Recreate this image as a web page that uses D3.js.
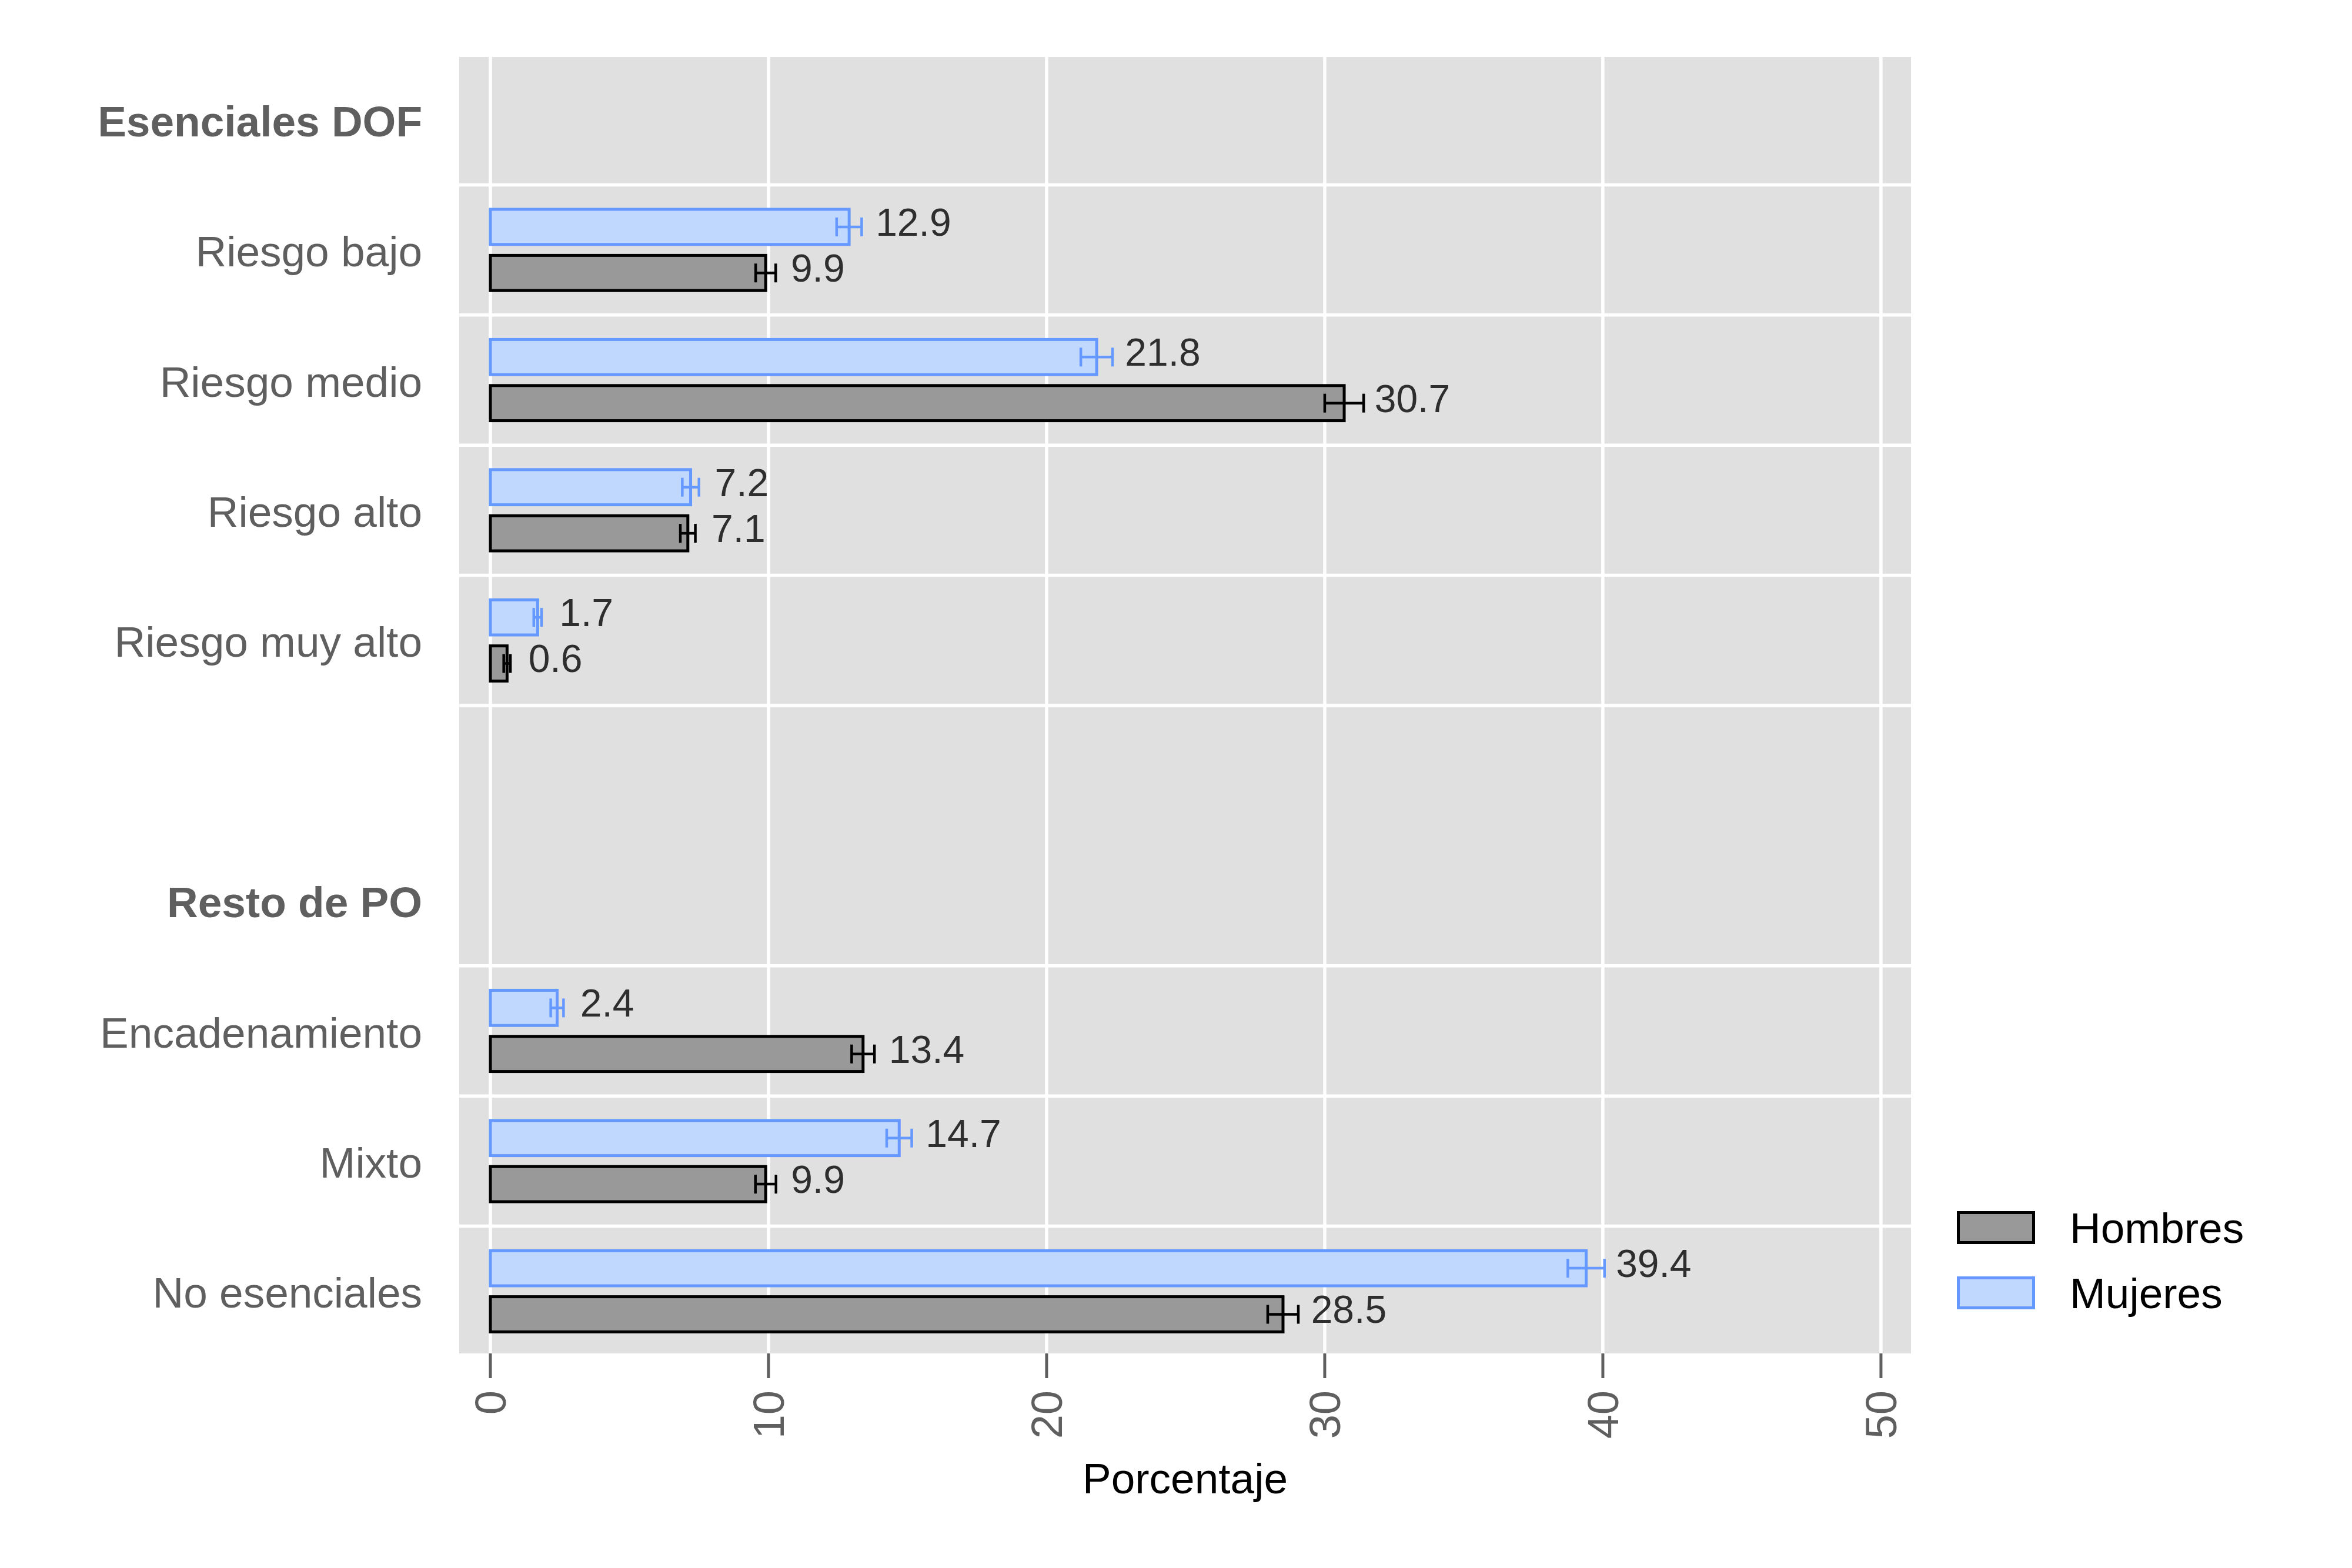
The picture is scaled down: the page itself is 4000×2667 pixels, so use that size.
<!DOCTYPE html>
<html>
<head>
<meta charset="utf-8">
<script src="https://cdn.jsdelivr.net/npm/d3@7"></script>
<style>
  html, body { margin: 0; padding: 0; background: #ffffff; }
  svg { display: block; }
  text { font-family: "Liberation Sans", Arial, Helvetica, sans-serif; }
</style>
</head>
<body>
<script>
// ---------- DATA ----------
const categories = ["Esenciales DOF", "Riesgo bajo", "Riesgo medio", "Riesgo alto", "Riesgo muy alto",
                    "", "Resto de PO", "Encadenamiento", "Mixto", "No esenciales"];
const headers = ["Esenciales DOF", "Resto de PO"];
const series = ["Hombres", "Mujeres"];
const mujeres    = [null, 12.9, 21.8, 7.2, 1.7, null, null, 2.4, 14.7, 39.4];
const hombres    = [null,  9.9, 30.7, 7.1, 0.6, null, null, 13.4, 9.9, 28.5];
const mujeresErr = [null, 0.45, 0.57, 0.30, 0.14, null, null, 0.23, 0.45, 0.66];
const hombresErr = [null, 0.36, 0.70, 0.27, 0.12, null, null, 0.41, 0.37, 0.55];
const xTicks = [0, 10, 20, 30, 40, 50];
const xTitle = "Porcentaje";

// ---------- LAYOUT ----------
const W = 4000, H = 2667;
const panel = { left: 781, right: 3250, top: 97, bottom: 2302 };
const colors = {
  Hombres: { fill: "#999999", stroke: "#000000" },
  Mujeres: { fill: "#C0D7FE", stroke: "#6699FF" }
};
const textGrey = "#5f5f5f";

const svg = d3.select("body").append("svg")
  .attr("width", W).attr("height", H)
  .attr("viewBox", `0 0 ${W} ${H}`);
svg.append("rect").attr("width", W).attr("height", H).attr("fill", "#ffffff");

const x = d3.scaleLinear().domain([-1.12, 51.08]).range([panel.left, panel.right]);
const y = d3.scaleBand().domain(d3.range(categories.length)).range([93, 2307]).padding(0);
const bw = y.bandwidth();

// panel background
svg.append("rect")
  .attr("x", panel.left).attr("y", panel.top)
  .attr("width", panel.right - panel.left).attr("height", panel.bottom - panel.top)
  .attr("fill", "#E0E0E0");

// vertical gridlines
svg.append("g").selectAll("line").data(xTicks).join("line")
  .attr("x1", d => x(d)).attr("x2", d => x(d))
  .attr("y1", panel.top).attr("y2", panel.bottom)
  .attr("stroke", "#ffffff").attr("stroke-width", 5.5);

// horizontal separators: around each category that has data
const hasData = categories.map((c, i) => hombres[i] !== null || mujeres[i] !== null);
const sepSet = new Set();
hasData.forEach((h, i) => { if (h) { sepSet.add(i); sepSet.add(i + 1); } });
const seps = Array.from(sepSet).filter(i => i > 0 && i < categories.length);
svg.append("g").selectAll("line").data(seps).join("line")
  .attr("x1", panel.left).attr("x2", panel.right)
  .attr("y1", d => y(d)).attr("y2", d => y(d))
  .attr("stroke", "#ffffff").attr("stroke-width", 5.5);

// bars
const barH = 0.27 * bw;
const offset = { Mujeres: -0.177 * bw, Hombres: 0.177 * bw };
const rows = [];
categories.forEach((c, i) => {
  if (mujeres[i] !== null) rows.push({ i, s: "Mujeres", v: mujeres[i], e: mujeresErr[i] });
  if (hombres[i] !== null) rows.push({ i, s: "Hombres", v: hombres[i], e: hombresErr[i] });
});
const cy = d => y(d.i) + bw / 2 + offset[d.s];

const gBars = svg.append("g");
gBars.selectAll("rect").data(rows).join("rect")
  .attr("x", x(0))
  .attr("y", d => cy(d) - barH / 2)
  .attr("width", d => x(d.v) - x(0))
  .attr("height", barH)
  .attr("fill", d => colors[d.s].fill)
  .attr("stroke", d => colors[d.s].stroke)
  .attr("stroke-width", 5);

// error bars
const capH = 32;
const gErr = svg.append("g");
rows.forEach(d => {
  const c = colors[d.s].stroke;
  const yc = cy(d);
  gErr.append("line").attr("x1", x(d.v - d.e)).attr("x2", x(d.v + d.e))
    .attr("y1", yc).attr("y2", yc).attr("stroke", c).attr("stroke-width", 4.5);
  [d.v - d.e, d.v + d.e].forEach(v => {
    gErr.append("line").attr("x1", x(v)).attr("x2", x(v))
      .attr("y1", yc - capH / 2).attr("y2", yc + capH / 2)
      .attr("stroke", c).attr("stroke-width", 4.5);
  });
});

// value labels
svg.append("g").selectAll("text").data(rows).join("text")
  .attr("x", d => x(d.v + 0.7 + 0.56 * d.e))
  .attr("y", d => cy(d) + 15)
  .attr("font-size", 66)
  .attr("fill", "#2e2e2e")
  .text(d => d.v.toFixed(1));

// y-axis labels
svg.append("g").selectAll("text").data(categories).join("text")
  .attr("x", 718)
  .attr("y", (d, i) => y(i) + bw / 2 + 28)
  .attr("text-anchor", "end")
  .attr("font-size", 73)
  .attr("font-weight", d => headers.includes(d) ? "bold" : "normal")
  .attr("fill", textGrey)
  .text(d => d);

// x-axis ticks and labels
const gx = svg.append("g");
gx.selectAll("line").data(xTicks).join("line")
  .attr("x1", d => x(d)).attr("x2", d => x(d))
  .attr("y1", panel.bottom).attr("y2", panel.bottom + 42)
  .attr("stroke", textGrey).attr("stroke-width", 5);
gx.selectAll("text").data(xTicks).join("text")
  .attr("transform", d => `translate(${x(d)},${panel.bottom + 63}) rotate(-90)`)
  .attr("text-anchor", "end")
  .attr("dy", "0.35em")
  .attr("font-size", 74)
  .attr("fill", textGrey)
  .text(d => d);

// x-axis title
svg.append("text")
  .attr("x", (panel.left + panel.right) / 2)
  .attr("y", 2540)
  .attr("text-anchor", "middle")
  .attr("font-size", 73)
  .attr("fill", "#000000")
  .text(xTitle);

// legend
const legY = [2062.5, 2173.5];
const gLeg = svg.append("g");
series.forEach((s, k) => {
  gLeg.append("rect")
    .attr("x", 3330.5).attr("y", legY[k])
    .attr("width", 128).attr("height", 51)
    .attr("fill", colors[s].fill).attr("stroke", colors[s].stroke).attr("stroke-width", 5);
  gLeg.append("text")
    .attr("x", 3520).attr("y", legY[k] + 25.5 + 26)
    .attr("font-size", 73)
    .attr("fill", "#000000")
    .text(s);
});
</script>
</body>
</html>
